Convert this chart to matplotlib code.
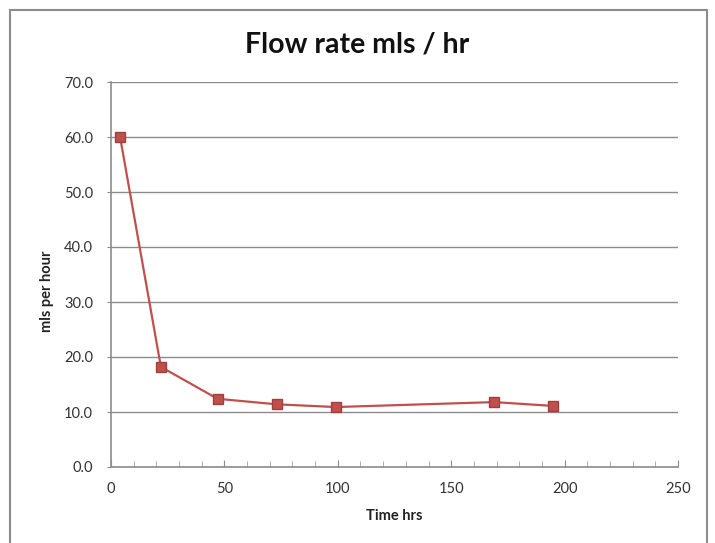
import matplotlib.pyplot as plt
from matplotlib.patches import Rectangle
import numpy as np

# data
time_hrs = [4, 22, 47, 73, 99, 169, 195]
flow_rate = [60.0, 18.2, 12.4, 11.4, 10.9, 11.8, 11.1]

x_ticks = [0, 50, 100, 150, 200, 250]
y_ticks = [0, 10, 20, 30, 40, 50, 60, 70]

plt.rcParams['font.family'] = ['Lato', 'DejaVu Sans']

fig = plt.figure(figsize=(7.15, 5.43), dpi=100)
fig.patch.set_facecolor("white")

# outer chart border (Excel style)
border = Rectangle((10 / 715, -0.05), 697 / 715, 1.05 - 10 / 543,
                   transform=fig.transFigure, fill=False,
                   edgecolor="#8c8c8c", linewidth=1.5, clip_on=False)
fig.patches.append(border)

ax = fig.add_axes([111 / 715, 76 / 543, 567 / 715, 385 / 543])

ax.plot(time_hrs, flow_rate, color="#c0504d", linewidth=1.6,
        marker="s", markersize=7, markerfacecolor="#c0504d",
        markeredgecolor="#a0403d", zorder=3)

ax.set_xlim(0, 250)
ax.set_ylim(0, 70)
ax.set_xticks(x_ticks)
ax.set_yticks(y_ticks)
ax.set_yticklabels([f"{v:.1f}" for v in y_ticks])
ax.set_xticks(np.arange(10, 250, 10), minor=True)

ax.grid(axis="y", color="#8c8c8c", linewidth=1.0)
ax.set_axisbelow(True)

for s in ["top", "right"]:
    ax.spines[s].set_visible(False)
for s in ["left", "bottom"]:
    ax.spines[s].set_color("#8c8c8c")
    ax.spines[s].set_linewidth(1.2)

ax.tick_params(axis="x", which="major", direction="in", length=5,
               color="#8c8c8c", labelsize=10.5, labelcolor="#333333", pad=11)
ax.tick_params(axis="x", which="minor", direction="in", length=4,
               color="#a0a0a0")
ax.tick_params(axis="y", which="major", direction="out", length=3,
               color="#8c8c8c", labelsize=10.5, labelcolor="#333333", pad=10)

ax.set_xlabel("Time hrs", fontsize=10.5, fontweight="bold", color="#222222",
              labelpad=9)
ax.set_ylabel("mls per hour", fontsize=10.5, fontweight="bold",
              color="#222222")
ax.yaxis.set_label_coords(-0.100, 0.457)

fig.text(357 / 715, 1 - 44 / 543, "Flow rate mls / hr", ha="center",
         va="center", fontsize=20.5, fontweight="bold", color="#111111")

fig.savefig("out.png", dpi=100)
